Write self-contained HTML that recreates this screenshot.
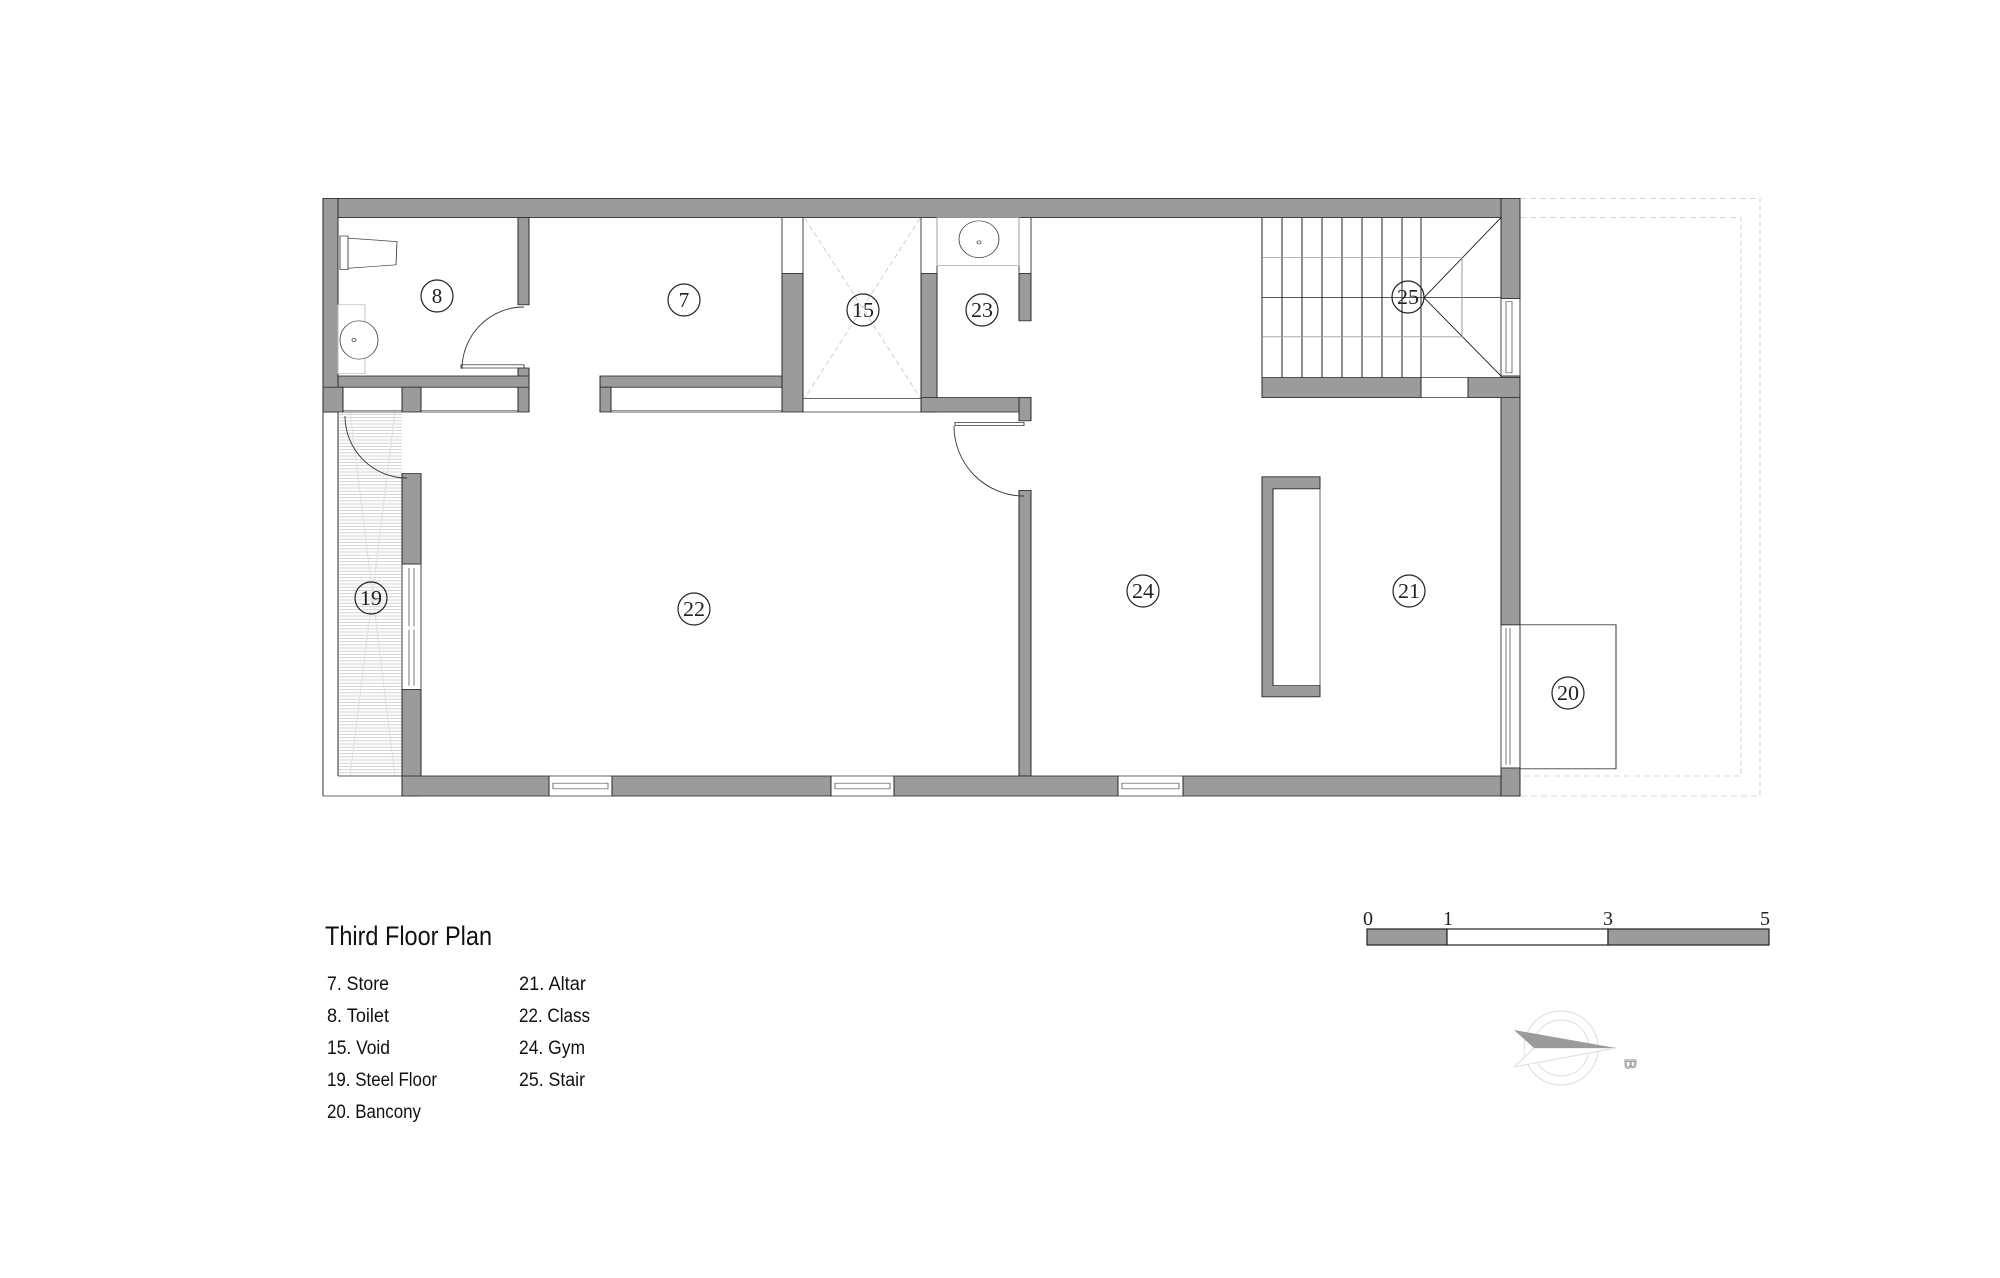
<!DOCTYPE html>
<html><head><meta charset="utf-8"><style>
html,body{margin:0;padding:0;background:#fff}
svg{display:block}
</style></head><body>
<svg width="2000" height="1278" viewBox="0 0 2000 1278" xmlns="http://www.w3.org/2000/svg">
<defs>
<pattern id="hatch" width="4" height="4" patternUnits="userSpaceOnUse">
<line x1="0" y1="1" x2="4" y2="1" stroke="#c8c8c8" stroke-width="1"/>
</pattern>
</defs>
<rect width="2000" height="1278" fill="#fff"/>

<g transform="translate(0,180) scale(1,0.8) translate(0,-180)">
<g fill="none" stroke="#ccc" stroke-width="1" stroke-dasharray="6,4">
<rect x="1520" y="203" width="240" height="747"/>
<rect x="1520" y="227" width="221" height="698"/>
</g>

<rect x="338" y="470" width="64" height="455" fill="url(#hatch)"/>
<g stroke="#e0e0e0" stroke-width="1">
<line x1="350" y1="470" x2="395" y2="925"/><line x1="395" y1="470" x2="350" y2="925"/>
</g>
<g stroke="#333" stroke-width="1" fill="none">
<line x1="323" y1="470" x2="323" y2="950"/>
<line x1="323" y1="950" x2="402" y2="950"/>
<line x1="338" y1="470" x2="338" y2="925"/>
<line x1="338" y1="925" x2="402" y2="925"/>
</g>

<g stroke="#ccc" stroke-width="1" stroke-dasharray="6,4">
<line x1="805" y1="228" x2="920" y2="452"/><line x1="920" y1="228" x2="805" y2="452"/>
</g>

<g fill="#fff" stroke="#444" stroke-width="1">
<rect x="343" y="439" width="59" height="31"/>
<rect x="421" y="439" width="97" height="31"/>
<rect x="611" y="439" width="171" height="31"/>
<rect x="803" y="453" width="118" height="17"/>
<rect x="782" y="227" width="21" height="70"/>
<rect x="921" y="227" width="16" height="70"/>
<rect x="1019" y="227" width="12" height="70"/>
<rect x="1421" y="427" width="47" height="25"/>
<rect x="402" y="660" width="19" height="157"/>
<rect x="549" y="925" width="63" height="25"/>
<rect x="831" y="925" width="63" height="25"/>
<rect x="1118" y="925" width="65" height="25"/>
<rect x="1501" y="328" width="19" height="97"/>
<rect x="1501" y="736" width="19" height="179"/>
</g>
<g stroke="#555" stroke-width="0.8" fill="none">
<line x1="343" y1="468" x2="402" y2="468"/>
<line x1="421" y1="468" x2="518" y2="468"/>
<line x1="611" y1="468" x2="782" y2="468"/>
<line x1="409" y1="665" x2="409" y2="738"/><line x1="414" y1="665" x2="414" y2="738"/>
<line x1="409" y1="742" x2="409" y2="812"/><line x1="414" y1="742" x2="414" y2="812"/>
<rect x="553" y="934" width="55" height="7"/>
<rect x="835" y="934" width="55" height="7"/>
<rect x="1122" y="934" width="57" height="7"/>
<rect x="1506" y="332" width="6" height="89"/>
<line x1="1506" y1="740" x2="1506" y2="911"/><line x1="1510" y1="740" x2="1510" y2="911"/>
</g>

<g fill="#9b9b9b" stroke="#2a2a2a" stroke-width="1">
<rect x="323" y="203" width="1197" height="24"/>
<rect x="323" y="203" width="15" height="267"/>
<rect x="518" y="227" width="11" height="109"/>
<rect x="518" y="415" width="11" height="55"/>
<rect x="338" y="425" width="191" height="14"/>
<rect x="323" y="439" width="20" height="31"/>
<rect x="402" y="439" width="19" height="31"/>
<rect x="600" y="425" width="203" height="14"/>
<rect x="600" y="439" width="11" height="31"/>
<rect x="782" y="297" width="21" height="173"/>
<rect x="921" y="297" width="16" height="173"/>
<rect x="921" y="452" width="110" height="18"/>
<rect x="1019" y="452" width="12" height="29"/>
<rect x="1019" y="297" width="12" height="59"/>
<rect x="1019" y="568" width="12" height="357"/>
<rect x="402" y="547" width="19" height="113"/>
<rect x="402" y="817" width="19" height="133"/>
<rect x="402" y="925" width="147" height="25"/>
<rect x="612" y="925" width="219" height="25"/>
<rect x="894" y="925" width="224" height="25"/>
<rect x="1183" y="925" width="337" height="25"/>
<rect x="1501" y="203" width="19" height="125"/>
<rect x="1501" y="425" width="19" height="311"/>
<rect x="1501" y="915" width="19" height="35"/>
<rect x="1262" y="427" width="159" height="25"/>
<rect x="1468" y="427" width="52" height="25"/>
<path d="M1262 551 H1320 V566 H1273 V812 H1320 V826 H1262 Z"/>
</g>
<line x1="1320" y1="566" x2="1320" y2="812" stroke="#444" stroke-width="0.8"/>

<g stroke="#222" stroke-width="1" fill="none">
<line x1="1262" y1="227" x2="1262" y2="427"/>
<line x1="1282" y1="227" x2="1282" y2="427"/>
<line x1="1302" y1="227" x2="1302" y2="427"/>
<line x1="1322" y1="227" x2="1322" y2="427"/>
<line x1="1342" y1="227" x2="1342" y2="427"/>
<line x1="1362" y1="227" x2="1362" y2="427"/>
<line x1="1382" y1="227" x2="1382" y2="427"/>
<line x1="1402" y1="227" x2="1402" y2="427"/>
<line x1="1421" y1="227" x2="1421" y2="427"/>
<line x1="1262" y1="327" x2="1501" y2="327"/>
<line x1="1501" y1="227" x2="1424" y2="327"/>
<line x1="1424" y1="327" x2="1501" y2="425"/>
</g>
<g stroke="#999" stroke-width="1" fill="none">
<line x1="1262" y1="277" x2="1462" y2="277"/>
<line x1="1262" y1="376" x2="1462" y2="376"/>
<line x1="1462" y1="277" x2="1462" y2="376"/>
</g>

<rect x="1520" y="736" width="96" height="180" fill="#fff" stroke="#333" stroke-width="1"/>

<g stroke="#333" stroke-width="0.9" fill="none">
<rect x="461" y="411" width="63" height="4"/>
<rect x="955" y="483" width="69" height="4"/>
</g>

<g stroke="#444" stroke-width="0.9" fill="#fff">
<path d="M340 252 L397 257 L396 286 L340 291 Z"/>
<rect x="340" y="250" width="8" height="42"/>
<rect x="338" y="336" width="27" height="86" stroke="#bbb"/>
<ellipse cx="359" cy="380" rx="19" ry="24"/>
<circle cx="354" cy="380" r="2"/>
<rect x="937" y="227" width="82" height="60" fill="none" stroke="#aaa"/>
<ellipse cx="979" cy="254" rx="20" ry="23"/>
<circle cx="979" cy="258" r="2"/>
</g>
</g>

<g stroke="#333" stroke-width="0.9" fill="none">
<path d="M524 307 A62 62 0 0 0 462 369"/>
<path d="M345 416 A62 62 0 0 0 407 478"/>
<path d="M954 426 A70 70 0 0 0 1024 496"/>
</g>

<g font-family="'Liberation Serif',serif" font-size="21" text-anchor="middle" fill="#222">
<g fill="none" stroke="#222" stroke-width="1.2">
<circle cx="437" cy="296" r="16"/><circle cx="684" cy="300" r="16"/>
<circle cx="863" cy="310" r="16"/><circle cx="982" cy="310" r="16"/>
<circle cx="371" cy="598" r="16"/><circle cx="694" cy="609" r="16"/>
<circle cx="1408" cy="297" r="16"/><circle cx="1143" cy="591" r="16"/>
<circle cx="1409" cy="591" r="16"/><circle cx="1568" cy="693" r="16"/>
</g>
<text x="437" y="303">8</text><text x="684" y="307">7</text>
<text x="863" y="317" textLength="22" lengthAdjust="spacingAndGlyphs">15</text>
<text x="982" y="317" textLength="22" lengthAdjust="spacingAndGlyphs">23</text>
<text x="371" y="605" textLength="22" lengthAdjust="spacingAndGlyphs">19</text>
<text x="694" y="616" textLength="22" lengthAdjust="spacingAndGlyphs">22</text>
<text x="1408" y="304" textLength="22" lengthAdjust="spacingAndGlyphs">25</text>
<text x="1143" y="598" textLength="22" lengthAdjust="spacingAndGlyphs">24</text>
<text x="1409" y="598" textLength="22" lengthAdjust="spacingAndGlyphs">21</text>
<text x="1568" y="700" textLength="22" lengthAdjust="spacingAndGlyphs">20</text>
</g>

<g font-family="'Liberation Sans',sans-serif" fill="#111">
<text x="325" y="945" font-size="27" textLength="167" lengthAdjust="spacingAndGlyphs">Third Floor Plan</text>
<g font-size="19">
<text x="327" y="990" textLength="62" lengthAdjust="spacingAndGlyphs">7. Store</text>
<text x="327" y="1022" textLength="62" lengthAdjust="spacingAndGlyphs">8. Toilet</text>
<text x="327" y="1054" textLength="63" lengthAdjust="spacingAndGlyphs">15. Void</text>
<text x="327" y="1086" textLength="110" lengthAdjust="spacingAndGlyphs">19. Steel Floor</text>
<text x="327" y="1118" textLength="94" lengthAdjust="spacingAndGlyphs">20. Bancony</text>
<text x="519" y="990" textLength="67" lengthAdjust="spacingAndGlyphs">21. Altar</text>
<text x="519" y="1022" textLength="71" lengthAdjust="spacingAndGlyphs">22. Class</text>
<text x="519" y="1054" textLength="66" lengthAdjust="spacingAndGlyphs">24. Gym</text>
<text x="519" y="1086" textLength="66" lengthAdjust="spacingAndGlyphs">25. Stair</text>
</g>
</g>

<g stroke="#222" stroke-width="1.2">
<rect x="1367" y="929" width="80" height="16" fill="#9b9b9b"/>
<rect x="1447" y="929" width="161" height="16" fill="#fff"/>
<rect x="1608" y="929" width="161" height="16" fill="#9b9b9b"/>
</g>
<g font-family="'Liberation Serif',serif" font-size="20" fill="#222" text-anchor="middle">
<text x="1368" y="925">0</text><text x="1448" y="925">1</text>
<text x="1608" y="925">3</text><text x="1765" y="925">5</text>
</g>

<g fill="none" stroke="#ddd" stroke-width="1">
<circle cx="1561" cy="1048" r="37"/><circle cx="1561" cy="1048" r="28"/>
<path d="M1534 1048 L1514 1067 L1616 1048 Z" fill="#fff"/>
</g>
<path d="M1514 1030 L1616 1048 L1534 1048 Z" fill="#9b9b9b"/>
<text x="1625" y="1064" font-family="'Liberation Sans',sans-serif" font-size="16" fill="none" stroke="#888" stroke-width="0.8" transform="rotate(90 1625 1064)" text-anchor="middle">B</text>
</svg>
</body></html>
